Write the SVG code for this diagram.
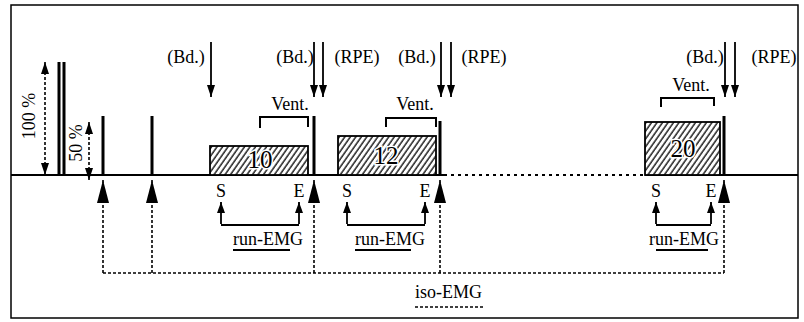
<svg xmlns="http://www.w3.org/2000/svg" width="804" height="322" viewBox="0 0 804 322">
<style>
.t{font-family:"Liberation Serif","DejaVu Serif",serif;font-size:18px;fill:#000}
.num{font-family:"Liberation Serif","DejaVu Serif",serif;font-size:25px;fill:#000;stroke:#fff;stroke-width:3;paint-order:stroke;text-anchor:middle}
.bar{fill:#000}
.box{fill:url(#hatch);stroke:#000;stroke-width:1.8}
.ln{stroke:#000;stroke-width:1.8;fill:none}
.dash{stroke:#000;stroke-width:1.6;fill:none;stroke-dasharray:3 2}
.brk{stroke:#000;stroke-width:2;fill:none}
</style>
<defs>
<pattern id="hatch" patternUnits="userSpaceOnUse" width="4.5" height="8" patternTransform="rotate(35)">
<rect width="4.5" height="8" fill="#fff"/>
<line x1="1" y1="0" x2="1" y2="8" stroke="#000" stroke-width="1.3"/>
</pattern>
<marker id="ah" markerUnits="userSpaceOnUse" viewBox="0 0 12 8" refX="12" refY="4" markerWidth="12" markerHeight="8" orient="auto-start-reverse">
<path d="M0,0L12,4L0,8z" fill="#000"/>
</marker>
<marker id="big" markerUnits="userSpaceOnUse" viewBox="0 0 23 12" refX="23" refY="6" markerWidth="23" markerHeight="12" orient="auto">
<path d="M0,0L23,6L0,12z" fill="#000"/>
</marker>
<marker id="sm" markerUnits="userSpaceOnUse" viewBox="0 0 11 8" refX="11" refY="4" markerWidth="11" markerHeight="8" orient="auto">
<path d="M0,0L11,4L0,8z" fill="#000"/>
</marker>
</defs>

<rect x="11" y="5" width="787" height="313" fill="#fff" stroke="#000" stroke-width="1.5"/>

<g id="baseline">
<line class="ln" x1="11" y1="175" x2="444" y2="175"/>
<line class="ln" x1="444" y1="175" x2="645" y2="175" stroke-dasharray="3 4"/>
<line class="ln" x1="645" y1="175" x2="798" y2="175"/>
</g>

<g id="scale100">
<rect class="bar" x="57.5" y="62" width="3" height="113"/>
<rect class="bar" x="62.5" y="62" width="3" height="113"/>
<text class="t" transform="translate(35,116) rotate(-90)" text-anchor="middle">100 %</text>
</g>
<g id="scale50">
<rect class="bar" x="101.5" y="116" width="3" height="59"/>
<rect class="bar" x="150.5" y="116" width="3" height="59"/>
<text class="t" transform="translate(82,143) rotate(-90)" text-anchor="middle">50 %</text>
</g>

<g id="stage10">
<rect class="box" x="210" y="146" width="98" height="29"/>
<text class="num" x="260" y="168">10</text>
<rect class="bar" x="312.5" y="116" width="3" height="59"/>
<path class="brk" d="M260,128V117H308V127"/>
<text class="t" x="290" y="110" text-anchor="middle">Vent.</text>
</g>
<g id="stage12">
<rect class="box" x="338" y="136" width="98" height="39"/>
<text class="num" x="386" y="164">12</text>
<rect class="bar" x="438.5" y="121" width="3" height="54"/>
<path class="brk" d="M386,127V118H436V127"/>
<text class="t" x="415" y="110" text-anchor="middle">Vent.</text>
</g>
<g id="stage20">
<rect class="box" x="645" y="122" width="75" height="53"/>
<text class="num" x="683" y="157">20</text>
<rect class="bar" x="722.5" y="116" width="3" height="59"/>
<path class="brk" d="M661,107V98H714V106"/>
<text class="t" x="691" y="91" text-anchor="middle">Vent.</text>
</g>

<g id="top-labels">
<text class="t" x="186" y="63" text-anchor="middle">(Bd.)</text>
<text class="t" x="295" y="63" text-anchor="middle">(Bd.)</text>
<text class="t" x="357" y="63" text-anchor="middle">(RPE)</text>
<text class="t" x="417" y="63" text-anchor="middle">(Bd.)</text>
<text class="t" x="484" y="63" text-anchor="middle">(RPE)</text>
<text class="t" x="705" y="63" text-anchor="middle">(Bd.)</text>
<text class="t" x="774" y="63" text-anchor="middle">(RPE)</text>
</g>

<g id="emg-labels">
<text class="t" x="221" y="197" text-anchor="middle">S</text>
<text class="t" x="299" y="197" text-anchor="middle">E</text>
<text class="t" x="347" y="197" text-anchor="middle">S</text>
<text class="t" x="425" y="197" text-anchor="middle">E</text>
<text class="t" x="656" y="197" text-anchor="middle">S</text>
<text class="t" x="711" y="197" text-anchor="middle">E</text>
<text class="t" x="233" y="245">run-EMG</text>
<text class="t" x="355" y="245">run-EMG</text>
<text class="t" x="649" y="245">run-EMG</text>
<line class="ln" x1="233" y1="250" x2="290" y2="250"/>
<line class="ln" x1="355" y1="250" x2="411" y2="250"/>
<line class="ln" x1="656" y1="250" x2="708" y2="250"/>
<text class="t" x="415" y="298">iso-EMG</text>
<line class="dash" x1="415" y1="307" x2="484" y2="307"/>
</g>

<g id="connectors">
<line class="dash" x1="45" y1="62" x2="45" y2="175" marker-start="url(#ah)" marker-end="url(#ah)"/>
<line class="dash" x1="89" y1="122" x2="89" y2="180" marker-start="url(#ah)" marker-end="url(#ah)"/>
<line class="ln" x1="211" y1="42" x2="211" y2="97" marker-end="url(#ah)"/>
<line class="ln" x1="314" y1="42" x2="314" y2="97" marker-end="url(#ah)"/>
<line class="ln" x1="323" y1="42" x2="323" y2="97" marker-end="url(#ah)"/>
<line class="ln" x1="441" y1="42" x2="441" y2="97" marker-end="url(#ah)"/>
<line class="ln" x1="451" y1="42" x2="451" y2="97" marker-end="url(#ah)"/>
<line class="ln" x1="725" y1="42" x2="725" y2="97" marker-end="url(#ah)"/>
<line class="ln" x1="735" y1="42" x2="735" y2="97" marker-end="url(#ah)"/>
<path class="ln" d="M221,224V202M221,225H299M299,224V202" stroke-width="2"/>
<path class="ln" d="M347,224V202M347,225H425M425,224V202" stroke-width="2"/>
<path class="ln" d="M656,224V202M656,225H711M711,224V202" stroke-width="2"/>
<line x1="221" y1="214" x2="221" y2="202" stroke="none" marker-end="url(#sm)"/>
<line x1="299" y1="214" x2="299" y2="202" stroke="none" marker-end="url(#sm)"/>
<line x1="347" y1="214" x2="347" y2="202" stroke="none" marker-end="url(#sm)"/>
<line x1="425" y1="214" x2="425" y2="202" stroke="none" marker-end="url(#sm)"/>
<line x1="656" y1="214" x2="656" y2="202" stroke="none" marker-end="url(#sm)"/>
<line x1="711" y1="214" x2="711" y2="202" stroke="none" marker-end="url(#sm)"/>
<path class="dash" d="M103,273H724"/>
<line class="dash" x1="103" y1="273" x2="103" y2="180" marker-end="url(#big)"/>
<line class="dash" x1="152" y1="273" x2="152" y2="180" marker-end="url(#big)"/>
<line class="dash" x1="314" y1="273" x2="314" y2="180" marker-end="url(#big)"/>
<line class="dash" x1="440" y1="273" x2="440" y2="180" marker-end="url(#big)"/>
<line class="dash" x1="724" y1="273" x2="724" y2="180" marker-end="url(#big)"/>
</g>
</svg>
